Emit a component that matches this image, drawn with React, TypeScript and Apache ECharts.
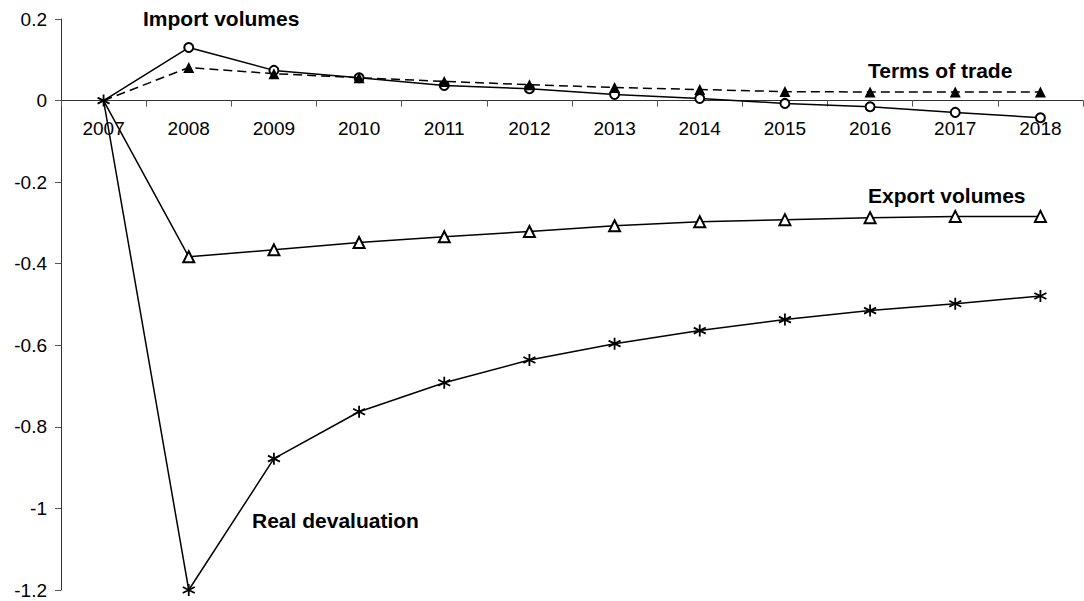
import React, { useEffect, useRef } from "react";
import * as echarts from "echarts";

const years = ["2007", "2008", "2009", "2010", "2011", "2012", "2013", "2014", "2015", "2016", "2017", "2018"];
const importVolumes = [0, 0.13, 0.074, 0.056, 0.037, 0.029, 0.015, 0.005, -0.007, -0.015, -0.029, -0.042];
const termsOfTrade = [0, 0.081, 0.066, 0.056, 0.047, 0.039, 0.032, 0.027, 0.022, 0.021, 0.021, 0.021];
const exportVolumes = [0, -0.383, -0.366, -0.348, -0.334, -0.321, -0.307, -0.297, -0.292, -0.287, -0.284, -0.284];
const realDevaluation = [0, -1.2, -0.878, -0.763, -0.692, -0.636, -0.596, -0.564, -0.537, -0.515, -0.498, -0.479];

const seriesNames = ["Import volumes", "Terms of trade", "Export volumes", "Real devaluation"];

const Y_MIN = -1.2;
const Y_MAX = 0.2;
const Y_STEP = 0.2;

const FONT = "'Liberation Sans', Arial, sans-serif";
const ASTERISK = "path://M0,-5L0,5M-4.33,-2.5L4.33,2.5M-4.33,2.5L4.33,-2.5";

function hideFirst(values: number[]) {
  return values.map((v, i) => (i === 0 ? { value: v, symbol: "none" } : v));
}

export default function App() {
  const ref = useRef<HTMLDivElement>(null);
  useEffect(() => {
    document.body.style.margin = "0";
    const chart = echarts.init(ref.current!, null, { renderer: "svg" });
    const W = 1084;
    const H = 601;
    const grid = { left: 61, right: 1, top: 19, bottom: 11 };
    const plotH = H - grid.top - grid.bottom;
    const zeroOffset = -(plotH * (0 - Y_MIN)) / (Y_MAX - Y_MIN);
    const labelStyle = { fontFamily: FONT, fontSize: 21, fontWeight: "bold", fill: "#000" };
    chart.setOption({
      animation: false,
      backgroundColor: "#fff",
      grid: { ...grid, containLabel: false },
      xAxis: {
        type: "category",
        data: years,
        boundaryGap: true,
        position: "bottom",
        offset: zeroOffset,
        axisLine: { onZero: false, lineStyle: { color: "#333", width: 1 } },
        axisTick: { show: true, length: 6, lineStyle: { color: "#555" } },
        axisLabel: { color: "#000", fontFamily: FONT, fontSize: 19, margin: 18 },
        splitLine: { show: false },
      },
      yAxis: {
        type: "value",
        min: Y_MIN,
        max: Y_MAX,
        interval: Y_STEP,
        axisLine: { show: true, onZero: false, lineStyle: { color: "#333", width: 1 } },
        axisTick: { show: true, length: 6, lineStyle: { color: "#555" } },
        axisLabel: {
          color: "#000",
          fontFamily: FONT,
          fontSize: 19,
          margin: 14,
          formatter: (v: number) => String(Math.round(v * 10) / 10),
        },
        splitLine: { show: false },
      },
      series: [
        {
          name: seriesNames[0],
          type: "line",
          data: hideFirst(importVolumes),
          symbol: "emptyCircle",
          symbolSize: 9,
          lineStyle: { color: "#000", width: 1.5 },
          itemStyle: { color: "#000", borderColor: "#000", borderWidth: 1.5 },
          z: 3,
        },
        {
          name: seriesNames[1],
          type: "line",
          data: hideFirst(termsOfTrade),
          symbol: "triangle",
          symbolSize: 11,
          lineStyle: { color: "#000", width: 1.5, type: [9, 5] },
          itemStyle: { color: "#000", borderColor: "#000", borderWidth: 0 },
          z: 4,
        },
        {
          name: seriesNames[2],
          type: "line",
          data: hideFirst(exportVolumes),
          symbol: "emptyTriangle",
          symbolSize: 11,
          lineStyle: { color: "#000", width: 1.5 },
          itemStyle: { color: "#000", borderColor: "#000", borderWidth: 1.5 },
          z: 3,
        },
        {
          name: seriesNames[3],
          type: "line",
          data: realDevaluation,
          symbol: ASTERISK,
          symbolSize: 12,
          lineStyle: { color: "#000", width: 1.5 },
          itemStyle: { color: "#000", borderColor: "#000", borderWidth: 1.8 },
          z: 5,
        },
      ],
      graphic: [
        { type: "text", left: 143, top: 8, style: { ...labelStyle, text: seriesNames[0] } },
        { type: "text", left: 868, top: 60, style: { ...labelStyle, text: seriesNames[1] } },
        { type: "text", left: 868, top: 185, style: { ...labelStyle, text: seriesNames[2] } },
        { type: "text", left: 252, top: 510, style: { ...labelStyle, text: seriesNames[3] } },
      ],
    });
    return () => chart.dispose();
  }, []);
  return <div ref={ref} style={{ width: 1084, height: 601 }} />;
}
